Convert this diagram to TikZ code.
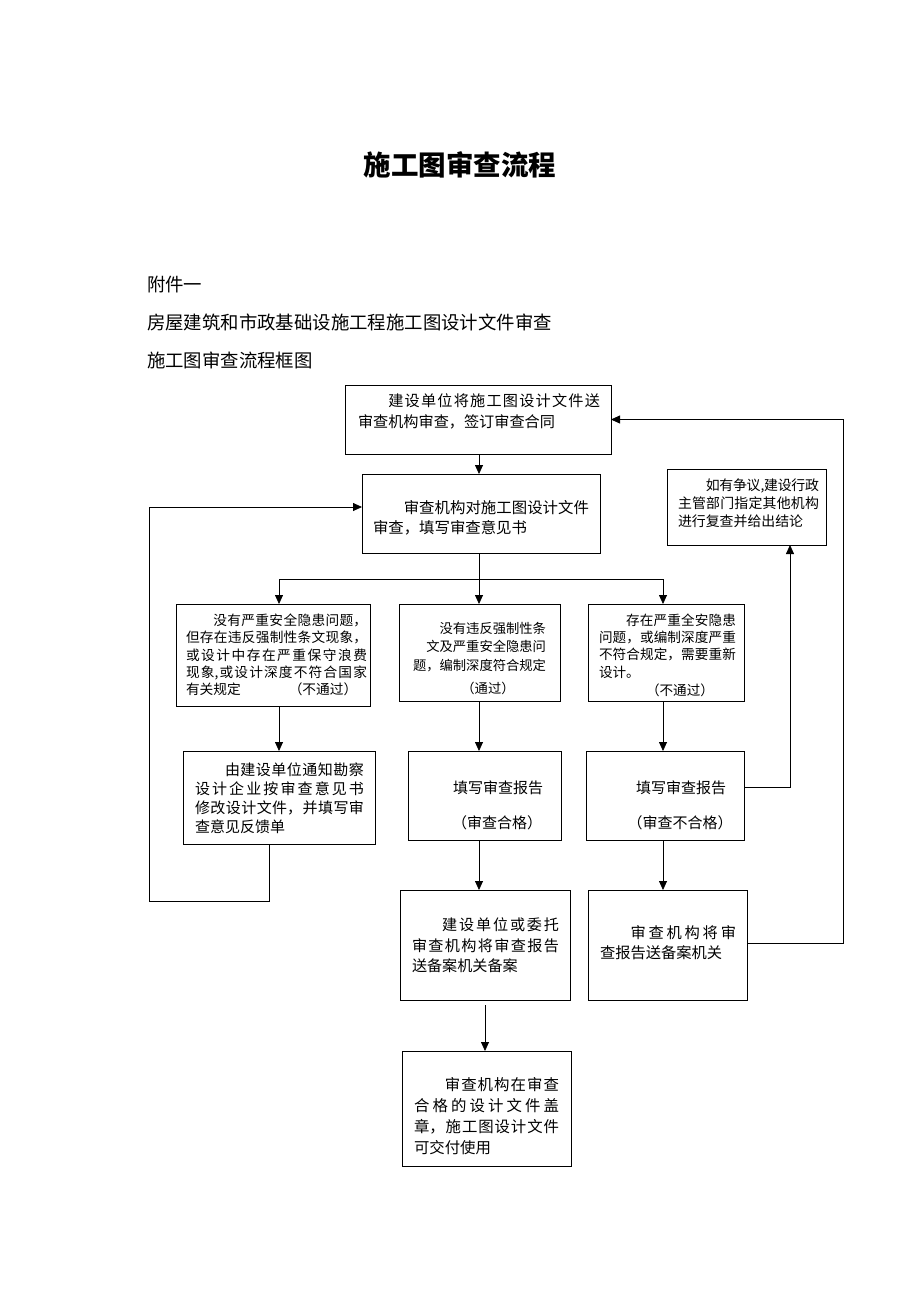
\documentclass[tikz,border=0pt]{standalone}
\usepackage{fontspec}
\setmainfont{Noto Sans CJK SC}
\usetikzlibrary{arrows.meta}
\XeTeXlinebreaklocale "zh"
\XeTeXlinebreakskip=0pt plus 5pt minus 0.6pt
\tikzset{
  box/.style={draw, line width=0.9pt, inner sep=0pt, outer sep=0pt, anchor=north west},
  txt/.style={inner sep=0pt, outer sep=0pt, anchor=base west, align=justify},
  txtr/.style={inner sep=0pt, outer sep=0pt, anchor=base west, align=right},
  lbl/.style={inner sep=0pt, outer sep=0pt, anchor=center},
  head/.style={inner sep=0pt, outer sep=0pt, anchor=west, font=\fontsize{18.4}{20}\selectfont},
  ln/.style={line width=0.8pt},
  arr/.style={line width=0.8pt, -{Triangle[length=9pt,width=8pt]}},
}
\begin{document}
\begin{tikzpicture}[x=1pt,y=-1pt]
\fill[white] (0,0) rectangle (920,1302);
\useasboundingbox (0,0) rectangle (920,1302);

% headings
\node[lbl, font=\fontsize{27.5}{30}\selectfont\bfseries] (title) at (460,165) {施工图审查流程};
\node[head] (h1) at (147,285) {附件一};
\node[head] (h2) at (147,322) {房屋建筑和市政基础设施工程施工图设计文件审查};
\node[head] (h3) at (147,360) {施工图审查流程框图};

% boxes
\node[box, minimum width=266pt, minimum height=69pt] (A) at (345,385) {};
\node[box, minimum width=238pt, minimum height=79pt] (B) at (362,474) {};
\node[box, minimum width=159pt, minimum height=76pt] (C) at (667,469) {};
\node[box, minimum width=194pt, minimum height=102pt] (D1) at (176,604) {};
\node[box, minimum width=161pt, minimum height=97pt] (D2) at (399,604) {};
\node[box, minimum width=156pt, minimum height=97pt] (D3) at (588,604) {};
\node[box, minimum width=192pt, minimum height=93pt] (E1) at (183,751) {};
\node[box, minimum width=153pt, minimum height=89pt] (E2) at (408,751) {};
\node[box, minimum width=158pt, minimum height=89pt] (E3) at (586,751) {};
\node[box, minimum width=170pt, minimum height=110pt] (F1) at (400,890) {};
\node[box, minimum width=159pt, minimum height=110pt] (F2) at (588,890) {};
\node[box, minimum width=169pt, minimum height=115pt] (G) at (402,1051) {};

% texts
\node[txt, text width=242pt, font=\fontsize{15.15}{21}\selectfont] (tA) at (358,406.8)
  {\hspace*{2em}建设单位将施工图设计文件送\linebreak 审查机构审查，签订审查合同};
\node[txt, text width=216pt, font=\fontsize{15.4}{20}\selectfont] (tB) at (373,513.9)
  {\hspace*{2em}审查机构对施工图设计文件\linebreak 审查，填写审查意见书};
\node[txt, text width=141pt, font=\fontsize{13.9}{18}\selectfont] (tC) at (678,490.3)
  {\hspace*{2em}如有争议,建设行政\linebreak 主管部门指定其他机构\linebreak 进行复查并给出结论};
\node[txt, text width=181pt, font=\fontsize{13.7}{17.4}\selectfont] (tD1) at (186,625.2)
  {\hspace*{2em}没有严重安全隐患问题，\linebreak 但存在违反强制性条文现象，\linebreak 或设计中存在严重保守浪费\linebreak 现象,或设计深度不符合国家\linebreak 有关规定\hspace{3.5em}（不通过）};
\node[txtr, text width=134pt, font=\fontsize{13.3}{18.5}\selectfont] (tD2) at (412,633)
  {\mbox{没有违反强制性条}\\\mbox{文及严重安全隐患问}\\\mbox{题，编制深度符合规定}};
\node[lbl, font=\fontsize{13.3}{15}\selectfont] (tD2b) at (488,688) {（通过）};
\node[txt, text width=137pt, font=\fontsize{13.6}{17.3}\selectfont] (tD3) at (599,625.2)
  {\hspace*{2em}存在严重全安隐患\linebreak 问题，或编制深度严重\linebreak 不符合规定，需要重新\linebreak 设计。};
\node[lbl, font=\fontsize{13.6}{15}\selectfont] (tD3b) at (680,690) {（不通过）};
\node[txt, text width=169pt, font=\fontsize{15}{19}\selectfont] (tE1) at (195,775.7)
  {\hspace*{2em}由建设单位通知勘察\linebreak 设计企业按审查意见书\linebreak 修改设计文件，并填写审\linebreak 查意见反馈单};
\node[lbl, font=\fontsize{15}{17}\selectfont] (tE2a) at (498,788) {填写审查报告};
\node[lbl, font=\fontsize{15}{17}\selectfont] (tE2b) at (497,823) {（审查合格）};
\node[lbl, font=\fontsize{15}{17}\selectfont] (tE3a) at (681,788) {填写审查报告};
\node[lbl, font=\fontsize{15}{17}\selectfont] (tE3b) at (680,823) {（审查不合格）};
\node[txt, text width=147pt, font=\fontsize{15.1}{20.5}\selectfont] (tF1) at (412,930.7)
  {\hspace*{2em}建设单位或委托\linebreak 审查机构将审查报告\linebreak 送备案机关备案};
\node[txt, text width=136pt, font=\fontsize{15.25}{20}\selectfont] (tF2) at (600,938.8)
  {\hspace*{2em}审查机构将审\linebreak 查报告送备案机关};
\node[txt, text width=145pt, font=\fontsize{15.4}{20.7}\selectfont] (tG) at (414,1090.9)
  {\hspace*{2em}审查机构在审查\linebreak 合格的设计文件盖\linebreak 章，施工图设计文件\linebreak 可交付使用};

% junction coordinates
\coordinate (jm) at (479,579);
\coordinate (j1) at (279,579);
\coordinate (j3) at (663,579);
\coordinate (jg) at (485,1005);
\coordinate (k) at (790,787);
\coordinate (m) at (843,943);
\coordinate (p) at (269,901);
\coordinate (q) at (149,901);
\coordinate (r) at (149,507);

% connectors
\draw[arr] (jm |- A.south) -- (jm |- B.north);
\draw[ln] (jm |- B.south) -- (jm);
\draw[ln] (j1) -- (j3);
\draw[arr] (j1) -- (j1 |- D1.north);
\draw[arr] (jm) -- (jm |- D2.north);
\draw[arr] (j3) -- (j3 |- D3.north);
\draw[arr] (j1 |- D1.south) -- (j1 |- E1.north);
\draw[arr] (jm |- D2.south) -- (jm |- E2.north);
\draw[arr] (j3 |- D3.south) -- (j3 |- E3.north);
\draw[arr] (jm |- E2.south) -- (jm |- F1.north);
\draw[arr] (j3 |- E3.south) -- (j3 |- F2.north);
\draw[arr] (jg) -- (jg |- G.north);
\draw[arr] (E3.east |- k) -- (k) -- (k |- C.south);
\draw[arr] (F2.east |- m) -- (m) |- (A.east);
\draw[arr] (p |- E1.south) -- (p) -- (q) -- (r) -- (r -| B.west);
\end{tikzpicture}
\end{document}
